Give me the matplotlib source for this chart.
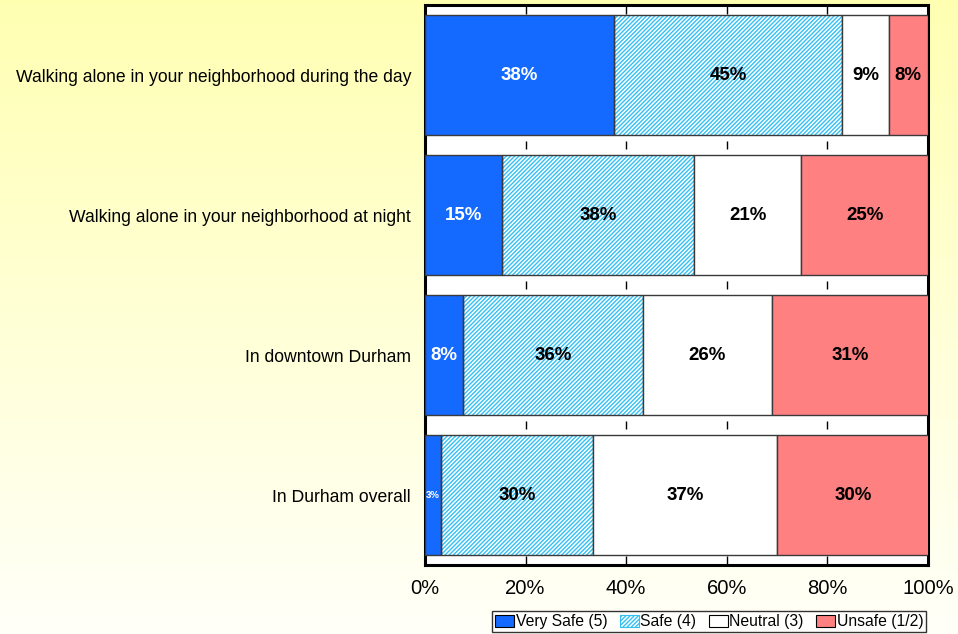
#!/usr/bin/env python3
"""Perceived safety by location - stacked horizontal bar chart."""
import matplotlib
matplotlib.use("Agg")
import matplotlib.pyplot as plt
import numpy as np
from matplotlib.patches import Patch

plt.rcParams["font.family"] = ["Liberation Sans", "DejaVu Sans"]
plt.rcParams["hatch.linewidth"] = 1.0
plt.rcParams["text.hinting"] = "native"

CATEGORIES = [
    "Walking alone in your neighborhood during the day",
    "Walking alone in your neighborhood at night",
    "In downtown Durham",
    "In Durham overall",
]
SERIES = ["Very Safe (5)", "Safe (4)", "Neutral (3)", "Unsafe (1/2)"]
VERY_SAFE = [37.6, 15.3, 7.6, 3.1]
SAFE = [45.3, 38.2, 35.7, 30.3]
NEUTRAL = [9.3, 21.3, 25.7, 36.6]
UNSAFE = [7.8, 25.2, 31.2, 30.1]
X_TICKS = [0, 20, 40, 60, 80, 100]

FACE = ["#1469FF", "white", "white", "#FF8080"]
HATCH = [None, "////////", None, None]
HATCH_COLOR = "#33C0F5"
TEXT_COLOR = ["white", "black", "black", "black"]
EDGE = "#3a3a3a"


def main() -> None:
    fig = plt.figure(figsize=(9.58, 6.34), dpi=100)

    # yellow-to-white background gradient
    bg = fig.add_axes([0, 0, 1, 1], zorder=-10)
    grad = np.linspace(0, 1, 256)[:, None]
    top = np.array([1.0, 1.0, 0.70])
    bottom = np.array([1.0, 1.0, 0.975])
    img = top[None, None, :] * (1 - grad[..., None]) + bottom[None, None, :] * grad[..., None]
    bg.imshow(img, aspect="auto", extent=[0, 1, 0, 1])
    bg.axis("off")

    ax = fig.add_axes([0.4436, 0.1088, 0.5251, 0.8833])
    ax.set_facecolor("white")
    n = len(CATEGORIES)
    y = np.arange(n)
    height = 0.857
    data = [VERY_SAFE, SAFE, NEUTRAL, UNSAFE]
    left = np.zeros(n)

    for i, values in enumerate(data):
        vals = np.array(values)
        if HATCH[i]:
            ax.barh(y, vals, left=left, height=height, color="white",
                    hatch=HATCH[i], edgecolor=HATCH_COLOR, linewidth=0, zorder=2)
            ax.barh(y, vals, left=left, height=height, fill=False,
                    edgecolor=EDGE, linewidth=1.0, zorder=3)
        else:
            ax.barh(y, vals, left=left, height=height, color=FACE[i],
                    edgecolor=EDGE, linewidth=1.0, zorder=3)
        for j, v in enumerate(vals):
            small = v < 5
            ax.text(left[j] + v / 2, y[j], f"{int(round(v))}%", ha="center", va="center",
                    color=TEXT_COLOR[i], fontweight="bold",
                    fontsize=7 if small else 13.5, zorder=4)
        left += vals

    ax.set_xlim(0, 100)
    ax.set_ylim(n - 0.5, -0.5)
    ax.set_yticks(y)
    ax.set_yticklabels(CATEGORIES, fontsize=12.7)
    ax.set_xticks(X_TICKS)
    ax.set_xticklabels([f"{t}%" for t in X_TICKS], fontsize=14.5)
    ax.tick_params(axis="both", length=0)
    ax.tick_params(axis="x", pad=11)
    ax.tick_params(axis="y", pad=10)

    # one little tick mark in each gap between bars
    half = height / 2
    gap_tops = np.concatenate([[-0.5], y + half])
    gap_bots = np.concatenate([y - half, [n - 0.5]])
    for gt, gb in zip(gap_tops, gap_bots):
        mid = (gt + gb) / 2
        ax.vlines(X_TICKS[1:-1], max(gt, mid - 0.028), min(gb, mid + 0.03),
                  color="black", linewidth=1.0, zorder=1)

    for s in ax.spines.values():
        s.set_linewidth(2.2)
        s.set_color("black")

    handles = [
        Patch(facecolor=FACE[0], edgecolor="black", linewidth=0.8),
        Patch(facecolor="white", hatch="////////", edgecolor=HATCH_COLOR, linewidth=0.8),
        Patch(facecolor="white", edgecolor="black", linewidth=0.8),
        Patch(facecolor=FACE[3], edgecolor="black", linewidth=0.8),
    ]
    leg = fig.legend(handles, SERIES, loc="lower right", bbox_to_anchor=(0.9687, 0.0),
                     ncol=4, fontsize=11.3, frameon=True, fancybox=False,
                     handlelength=1.2, handleheight=0.8, handletextpad=0.1,
                     columnspacing=0.8, borderpad=0.2, borderaxespad=0.1)
    leg.get_frame().set_edgecolor("black")
    leg.get_frame().set_linewidth(1.0)
    leg.get_frame().set_facecolor("white")

    fig.savefig("out.png", dpi=100)
    plt.close(fig)


if __name__ == "__main__":
    main()
